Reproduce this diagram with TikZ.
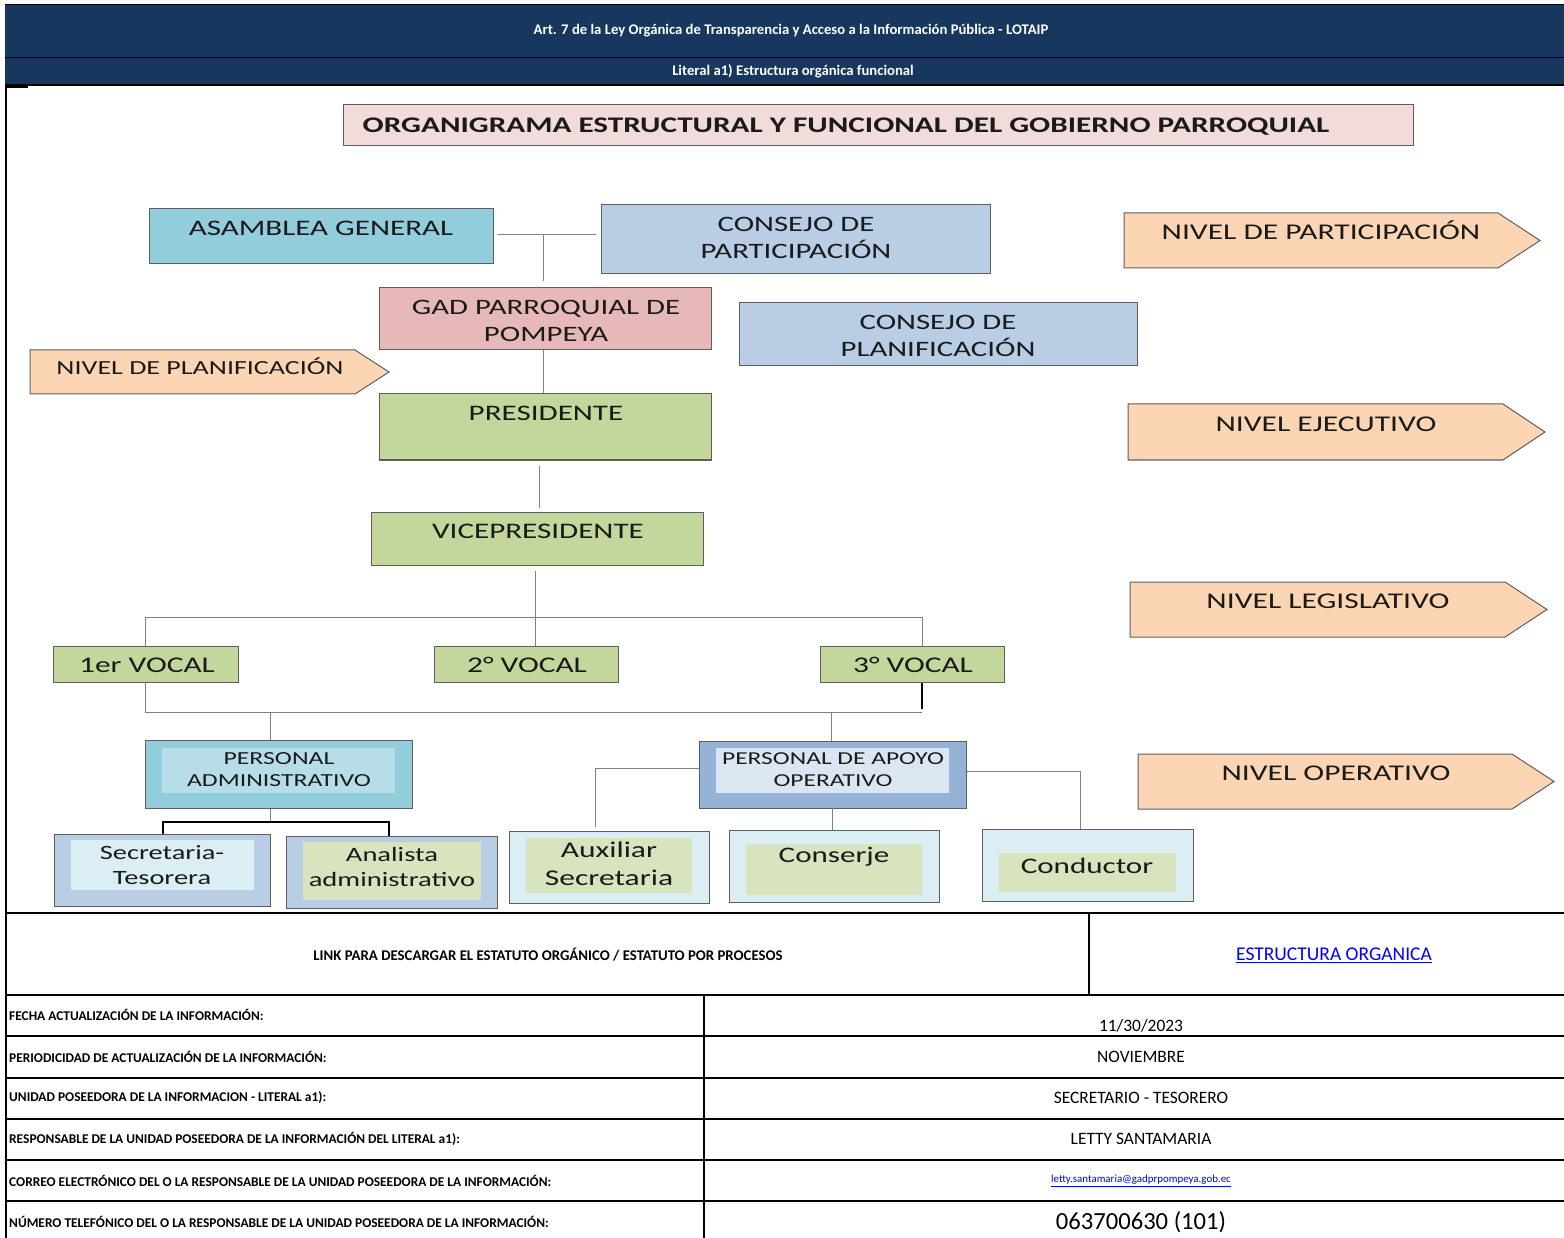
\documentclass[tikz,border=0pt]{standalone}
\usepackage{fontspec}
\setmainfont{Carlito}
\newfontfamily\chartfont[FakeStretch=1.40]{Carlito}
\usetikzlibrary{fit,calc}
\definecolor{navy}{HTML}{17375E}
\definecolor{titlepink}{HTML}{F2DCDB}
\definecolor{cyanA}{HTML}{92CDDC}
\definecolor{blueC}{HTML}{B9CDE5}
\definecolor{pinkG}{HTML}{E6B9B8}
\definecolor{greenP}{HTML}{C3D69B}
\definecolor{orangeN}{HTML}{FCD5B5}
\definecolor{cyanIn}{HTML}{B7DEE8}
\definecolor{blueOut}{HTML}{95B3D7}
\definecolor{blueIn}{HTML}{DCE6F2}
\definecolor{cyanLt}{HTML}{DBEEF4}
\definecolor{greenLt}{HTML}{D7E4BD}
\definecolor{bord}{HTML}{5F5F5F}
\definecolor{lin}{HTML}{808080}
\definecolor{txt}{HTML}{1A1A1A}
\definecolor{linkblue}{HTML}{0000FF}
\begin{document}
\begin{tikzpicture}[x=1pt,y=-1pt,
  bx/.style={draw=bord,line width=1pt,inner sep=0pt},
  inr/.style={inner sep=0pt,draw=none},
  conn/.style={draw=lin,line width=1pt},
  connk/.style={draw=black,line width=1.8pt},
  grid/.style={draw=black,line width=1.3pt},
  lvl/.style={draw=bord,line width=1pt,fill=orangeN},
  ct/.style 2 args={font=\chartfont\fontsize{#1}{#2}\selectfont,text=txt,align=center,inner sep=0pt},
  capc/.style={text height=#1,text depth=0pt},
  hd/.style={font=\fontsize{14.7}{16}\selectfont\bfseries,text=white,inner sep=0pt},
  tl/.style={font=\fontsize{13.4}{15}\selectfont\bfseries,text=black,inner sep=0pt,anchor=west},
  tv/.style={font=\fontsize{17.4}{20}\selectfont,text=black,inner sep=0pt}
]
\useasboundingbox (0,0) rectangle (1564,1238);
\fill[white] (0,0) rectangle (1564,1238);

% ---------- header ----------
\node[fill=navy,inner sep=0pt,fit={(5,5)(1564,57)}] (band1) {};
\node[fill=navy,inner sep=0pt,fit={(5,57)(1564,85)}] (band2) {};
\draw[black,line width=1.2pt] (band1.north west) -- (band1.north east);
\draw[black,line width=1.2pt] (band1.south west) -- (band1.south east);
\draw[black,line width=1.6pt] (band2.south west) -- (band2.south east);
\draw[black,line width=1.6pt] (6,87) -- (28,87);
\node[hd] (hdr1) at (791,31) {Art. 7 de la Ley Orgánica de Transparencia y Acceso a la Información Pública - LOTAIP};
\node[hd] (hdr2) at (793,71) {Literal a1) Estructura orgánica funcional};

% ---------- title ----------
\node[bx,fill=titlepink,fit={(343,105)(1413,146)}] (titlebox) {};
\node[ct={22.3}{26},capc=14.5pt] (title) at (846,125) {\bfseries ORGANIGRAMA ESTRUCTURAL Y FUNCIONAL DEL GOBIERNO PARROQUIAL};

% ---------- level arrows ----------
\draw[lvl] (1124,213) -- (1498,213) -- (1540,240.5) -- (1498,268) -- (1124,268) -- cycle;
\node[ct={22.5}{26},capc=15pt] (lpart) at (1321,232) {NIVEL DE PARTICIPACIÓN};
\draw[lvl] (30,350) -- (355,350) -- (389,372) -- (355,394) -- (30,394) -- cycle;
\node[ct={20}{24},capc=13pt] (lplan) at (200,368) {NIVEL DE PLANIFICACIÓN};
\draw[lvl] (1128,404) -- (1503,404) -- (1545,432) -- (1503,460) -- (1128,460) -- cycle;
\node[ct={22.5}{26},capc=15pt] (lejec) at (1326,424) {NIVEL EJECUTIVO};
\draw[lvl] (1130,582) -- (1505,582) -- (1547,609.5) -- (1505,637) -- (1130,637) -- cycle;
\node[ct={22.5}{26},capc=15pt] (llegi) at (1328,601) {NIVEL LEGISLATIVO};
\draw[lvl] (1138,754) -- (1512,754) -- (1554,781.5) -- (1512,809) -- (1138,809) -- cycle;
\node[ct={22.5}{26},capc=15pt] (loper) at (1336,773) {NIVEL OPERATIVO};

% ---------- boxes ----------
\node[bx,fill=cyanA,fit={(149,209)(493,264)}] (asam) {};
\node[ct={22.2}{26},capc=14.5pt] (asamt) at (321,228) {ASAMBLEA GENERAL};
\node[bx,fill=blueC,fit={(601,205)(990,274)}] (cpart) {};
\node[ct={22}{27}] (cpartt) at (796,238) {CONSEJO DE\\PARTICIPACIÓN};
\node[bx,fill=pinkG,fit={(379,288)(711,350)}] (gad) {};
\node[ct={22}{27}] (gadt) at (546,321) {GAD PARROQUIAL DE\\POMPEYA};
\node[bx,fill=blueC,fit={(739,303)(1137,366)}] (cplan) {};
\node[ct={22}{27}] (cplant) at (938,336) {CONSEJO DE\\PLANIFICACIÓN};
\node[bx,fill=greenP,fit={(379,394)(711,460)}] (pres) {};
\node[ct={22.2}{26},capc=14.5pt] (prest) at (546,413) {PRESIDENTE};
\node[bx,fill=greenP,fit={(371,512)(703,565)}] (vice) {};
\node[ct={22.2}{26},capc=14.5pt] (vicet) at (538,531) {VICEPRESIDENTE};
\node[bx,fill=greenP,fit={(53,646)(238,682)}] (v1) {};
\node[ct={22.4}{26},capc=14.5pt] (v1t) at (147,665) {1er VOCAL};
\node[bx,fill=greenP,fit={(434,646)(618,682)}] (v2) {};
\node[ct={22.4}{26},capc=14.5pt] (v2t) at (527,665) {2° VOCAL};
\node[bx,fill=greenP,fit={(820,646)(1004,682)}] (v3) {};
\node[ct={22.4}{26},capc=14.5pt] (v3t) at (913,665) {3° VOCAL};

\node[bx,fill=cyanA,fit={(145,740)(412,808)}] (padm) {};
\node[inr,fill=cyanIn,fit={(162,748)(395,793)}] (padmin) {};
\node[ct={18.4}{22}] (padmt) at (279,770) {PERSONAL\\ADMINISTRATIVO};
\node[bx,fill=blueOut,fit={(699,741)(966,808)}] (papo) {};
\node[inr,fill=blueIn,fit={(716,748)(949,793)}] (papoin) {};
\node[ct={18.2}{22}] (papot) at (833,770) {PERSONAL DE APOYO\\OPERATIVO};

\node[bx,fill=blueC,fit={(54,834)(270,906)}] (sect) {};
\node[inr,fill=cyanLt,fit={(71,840)(254,890)}] (sectin) {};
\node[ct={20.3}{25}] (sectt) at (162,865) {Secretaria-\\Tesorera};
\node[bx,fill=blueC,fit={(286,836)(497,908)}] (anal) {};
\node[inr,fill=greenLt,fit={(303,842)(481,900)}] (analin) {};
\node[ct={20.4}{25}] (analt) at (392,867) {Analista\\administrativo};
\node[bx,fill=cyanLt,fit={(509,831)(709,903)}] (aux) {};
\node[inr,fill=greenLt,fit={(526,838)(692,893)}] (auxin) {};
\node[ct={22.5}{28}] (auxt) at (609,864) {Auxiliar\\Secretaria};
\node[bx,fill=cyanLt,fit={(729,830)(939,902)}] (cons) {};
\node[inr,fill=greenLt,fit={(746,844)(922,895)}] (consin) {};
\node[ct={22.2}{26}] (const) at (834,857) {Conserje};
\node[bx,fill=cyanLt,fit={(982,829)(1193,901)}] (cond) {};
\node[inr,fill=greenLt,fit={(999,853)(1176,892)}] (condin) {};
\node[ct={22.2}{26}] (condt) at (1087,866) {Conductor};

% ---------- connectors ----------
\coordinate (j1) at (543,235);
\draw[conn] ($(asam.east |- j1)+(4,0)$) -- ($(cpart.west |- j1)+(-5,0)$);
\draw[conn] (j1) -- ($(j1 |- gad.north)+(0,-6)$);
\draw[conn] (gad.south -| j1) -- (pres.north -| j1);
\coordinate (j2) at (539,466);
\draw[conn] (j2) -- ($(j2 |- vice.north)+(0,-4)$);
\coordinate (vtop) at (535,571);
\coordinate (vbus) at (535,617);
\coordinate (b1) at (145,617);
\coordinate (b3) at (922,617);
\draw[conn] (vtop) -- (vbus);
\draw[conn] (b1) -- (b3);
\draw[conn] (b1) -- (b1 |- v1.north);
\draw[conn] (vbus) -- (vbus |- v2.north);
\draw[conn] (b3) -- (b3 |- v3.north);
\coordinate (c1) at (145,712);
\coordinate (c3) at (922,712);
\draw[conn] (c1 |- v1.south) -- (c1) -- (c3);
\draw[draw=black,line width=1.6pt] (c3 |- v3.south) -- ($(c3)+(0,-3)$);
\coordinate (c2) at (270,712);
\coordinate (c4) at (831,712);
\draw[conn] (c2) -- (c2 |- padm.north);
\draw[conn] (c4) -- (c4 |- papo.north);
\coordinate (d0) at (270,822);
\coordinate (d1) at (163,822);
\coordinate (d2) at (389,822);
\draw[conn] (d0 |- padm.south) -- (d0);
\draw[connk] (d1 |- sect.north) -- (d1) -- (d2) -- (d2 |- anal.north);
\coordinate (e1) at (595,768);
\coordinate (e2) at (1080,771);
\draw[conn] (papo.west |- e1) -- (e1) -- ($(e1 |- aux.north)+(0,-4)$);
\draw[conn] (papo.east |- e2) -- (e2) -- (e2 |- cond.north);
\draw[conn] (832,808) -- (832,830);

% ---------- table ----------
\draw[grid] (6,85) -- (6,1238);
\draw[grid] (6,913) -- (1564,913);
\draw[grid] (1089,913) -- (1089,995);
\draw[grid] (6,995) -- (1564,995);
\draw[grid] (704,995) -- (704,1238);
\foreach \yy in {1036,1078,1119,1160,1201} \draw[grid] (6,\yy) -- (1564,\yy);

\node[font=\fontsize{14.8}{17}\selectfont\bfseries,inner sep=0pt] (link) at (548,955) {LINK PARA DESCARGAR EL ESTATUTO ORGÁNICO / ESTATUTO POR PROCESOS};
\node[font=\fontsize{19.5}{22}\selectfont,text=linkblue,inner sep=0pt] (estr) at (1334,955) {\underline{ESTRUCTURA ORGANICA}};

\node[tl] (l1) at (9,1015) {FECHA ACTUALIZACIÓN DE LA INFORMACIÓN:};
\node[tl] (l2) at (9,1057) {PERIODICIDAD DE ACTUALIZACIÓN DE LA INFORMACIÓN:};
\node[tl] (l3) at (9,1098) {UNIDAD POSEEDORA DE LA INFORMACION - LITERAL a1):};
\node[tl] (l4) at (9,1139) {RESPONSABLE DE LA UNIDAD POSEEDORA DE LA INFORMACIÓN DEL LITERAL a1):};
\node[tl] (l5) at (9,1181) {CORREO ELECTRÓNICO DEL O LA RESPONSABLE DE LA UNIDAD POSEEDORA DE LA INFORMACIÓN:};
\node[tl] (l6) at (9,1222) {NÚMERO TELEFÓNICO DEL O LA RESPONSABLE DE LA UNIDAD POSEEDORA DE LA INFORMACIÓN:};

\node[tv] (v1val) at (1141,1026) {11/30/2023};
\node[tv] (v2val) at (1141,1057) {NOVIEMBRE};
\node[tv] (v3val) at (1141,1098) {SECRETARIO - TESORERO};
\node[tv] (v4val) at (1141,1139) {LETTY SANTAMARIA};
\node[font=\fontsize{10.9}{12}\selectfont,text=linkblue,inner sep=0pt] (v5val) at (1141,1181) {\underline{letty.santamaria@gadprpompeya.gob.ec}};
\node[font=\fontsize{24.6}{28}\selectfont,text=black,inner sep=0pt] (v6val) at (1141,1222) {063700630 (101)};
\end{tikzpicture}
\end{document}
